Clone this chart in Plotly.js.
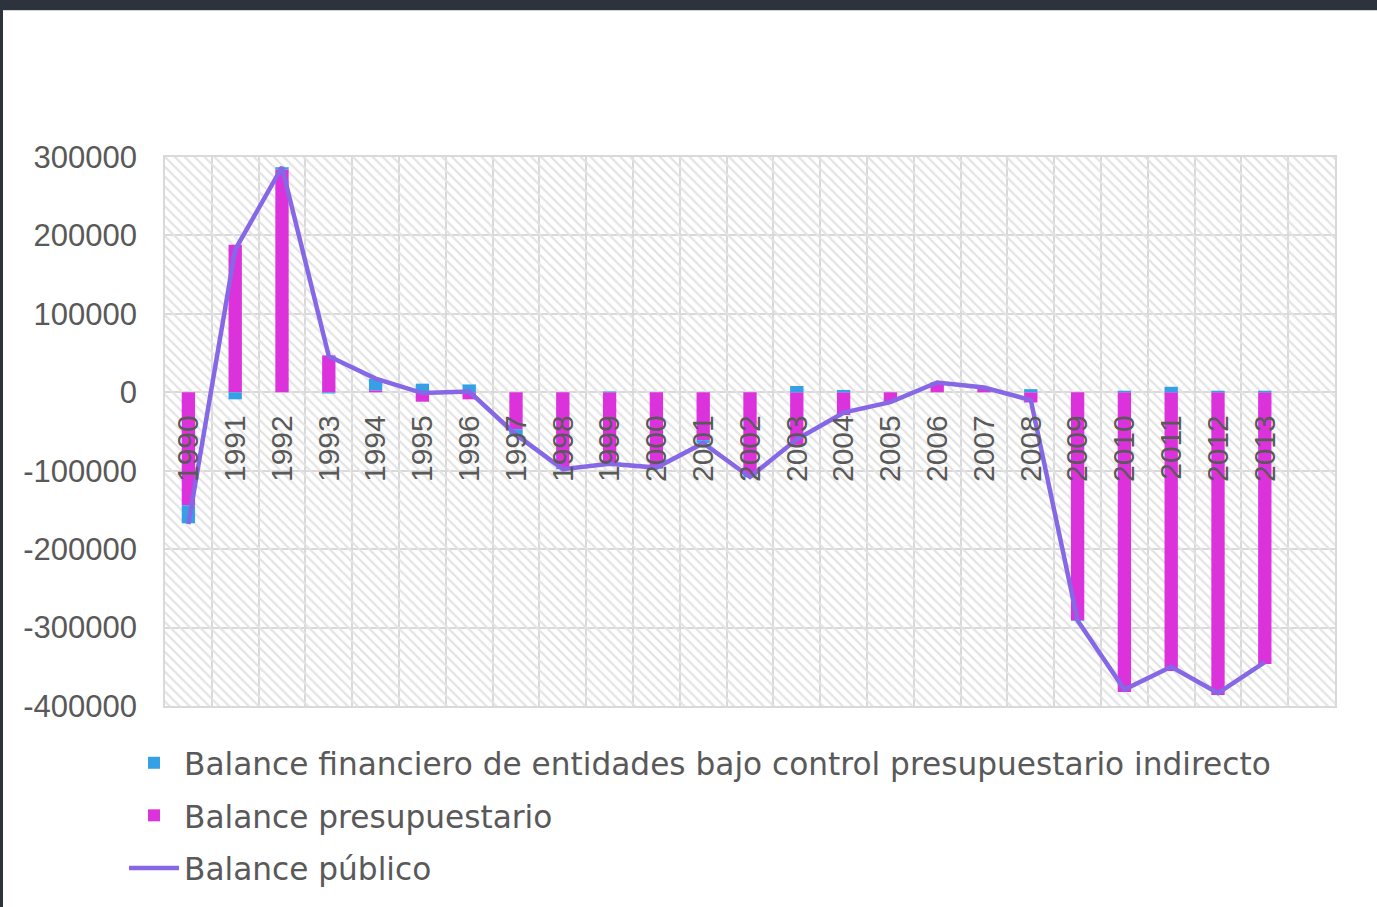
<!DOCTYPE html>
<html>
<head>
<meta charset="utf-8">
<script src="https://cdn.plot.ly/plotly-3.0.1.min.js"></script>
<style>
  html, body { margin: 0; padding: 0; width: 1377px; height: 907px; overflow: hidden; background: #2d333c; }
  #panel { position: absolute; left: 3px; top: 10px; width: 1374px; height: 897px; background: #ffffff; border-top: 1px solid #d4d4d4; box-sizing: border-box; }
  #chart { position: absolute; left: 3px; top: 11px; width: 1374px; height: 896px; }
</style>
</head>
<body>
<div id="panel"></div>
<div id="chart"></div>
<script>
const years = ['1990','1991','1992','1993','1994','1995','1996','1997','1998','1999','2000','2001',
               '2002','2003','2004','2005','2006','2007','2008','2009','2010','2011','2012','2013'];
const categorySlots = years.concat([' ']);

const balanceFinanciero = [-23000, -9000, 3000, -1500, 15000, 11000, 10000, -7000, -2000, 1000, -1000, -3500,
                           -3000, 8000, 3000, -500, 1000, 0, 4000, -1000, 2000, 7000, 2000, 2000];
const balancePresupuestario = [-144000, 188000, 284000, 47000, 2500, -12000, -9000, -47000, -96000, -91000, -97000, -61000,
                               -105500, -67000, -29000, -12000, 12000, 6500, -13000, -290500, -382000, -355500, -386000, -346500];
const balancePublico = [-168000, 182000, 287000, 46000, 17500, -1000, 1000, -54000, -98000, -91000, -96000, -65000,
                        -108000, -60000, -26000, -12500, 12500, 6000, -10000, -291000, -379000, -350000, -383500, -344000];

const yTickVals = [-400000, -300000, -200000, -100000, 0, 100000, 200000, 300000];
const yTickText = ['-400000', '-300000', '-200000', '-100000', '0', '100000', '200000', '300000'];

const seriesNames = ['Balance financiero de entidades bajo control presupuestario indirecto',
                     'Balance presupuestario', 'Balance público'];

const FONT = '"Liberation Sans", Arial, sans-serif';
const LEGFONT = '"DejaVu Sans", Verdana, sans-serif';
const TXT = '#595959';
const GRID = '#d9d9d9';

const traces = [
  { // hatched plot-area background
    type: 'bar', x: [0.5], y: [1], base: [0], width: [1],
    xaxis: 'x', yaxis: 'y', showlegend: false, hoverinfo: 'skip',
    marker: { color: 'rgba(0,0,0,0)', line: { width: 0 },
              pattern: { shape: '\\', fgcolor: '#e3e3e3', size: 7, solidity: 0.32 } }
  },
  {
    type: 'bar', name: seriesNames[1], x: years, y: balancePresupuestario,
    xaxis: 'x2', yaxis: 'y2', legendrank: 2, legendgroup: 'b',
    marker: { color: '#dc32dc', line: { width: 0 } }
  },
  {
    type: 'bar', name: seriesNames[0], x: years, y: balanceFinanciero,
    xaxis: 'x2', yaxis: 'y2', legendrank: 1, legendgroup: 'a',
    marker: { color: '#36a0e6', line: { width: 0 } }
  },
  {
    type: 'scatter', mode: 'lines', name: seriesNames[2], x: years, y: balancePublico,
    xaxis: 'x2', yaxis: 'y2', legendrank: 3, legendgroup: 'c',
    line: { color: '#8668e6', width: 4.5 }
  }
];

const layout = {
  width: 1374, height: 896,
  margin: { l: 162, r: 42, t: 146, b: 201, pad: 0, autoexpand: false },
  paper_bgcolor: 'rgba(0,0,0,0)',
  plot_bgcolor: '#ffffff',
  font: { family: FONT, color: TXT, size: 30 },
  barmode: 'relative',
  bargap: 0.715,
  showlegend: true,
  legend: {
    orientation: 'v', xref: 'container', yref: 'container',
    x: 121 / 1374, y: 1 - 725 / 896, xanchor: 'left', yanchor: 'top',
    font: { family: LEGFONT, size: 31.2, color: TXT },
    itemwidth: 50, tracegroupgap: 9, traceorder: 'grouped',
    bgcolor: 'rgba(0,0,0,0)'
  },
  xaxis: {
    range: [0, 1], showgrid: false, zeroline: false, showticklabels: false, ticks: '',
    showline: true, mirror: true, linecolor: GRID, linewidth: 2, fixedrange: true
  },
  yaxis: {
    range: [0, 1], showgrid: false, zeroline: false, showticklabels: false, ticks: '',
    showline: true, mirror: true, linecolor: GRID, linewidth: 2, fixedrange: true
  },
  xaxis2: {
    type: 'category', overlaying: 'x', anchor: 'free',
    position: 400000 / 700000,
    categoryorder: 'array', categoryarray: categorySlots,
    range: [-0.5, 24.5],
    tickson: 'boundaries', ticks: '', tickangle: -90,
    showgrid: true, gridcolor: GRID, gridwidth: 2,
    showline: false, zeroline: false,
    ticklabelstandoff: 16,
    tickfont: { family: FONT, size: 30, color: TXT },
    automargin: false,
    fixedrange: true
  },
  yaxis2: {
    overlaying: 'y', anchor: 'free', position: 0, side: 'left',
    range: [-400000, 300000],
    tickmode: 'array', tickvals: yTickVals, ticktext: yTickText,
    showgrid: true, gridcolor: GRID, gridwidth: 2,
    zeroline: true, zerolinecolor: GRID, zerolinewidth: 2,
    showline: false, ticks: '',
    ticklabelstandoff: 28,
    tickfont: { family: FONT, size: 31, color: TXT },
    automargin: false,
    fixedrange: true
  }
};

Plotly.newPlot('chart', traces, layout, { displayModeBar: false, staticPlot: true });
</script>
</body>
</html>
